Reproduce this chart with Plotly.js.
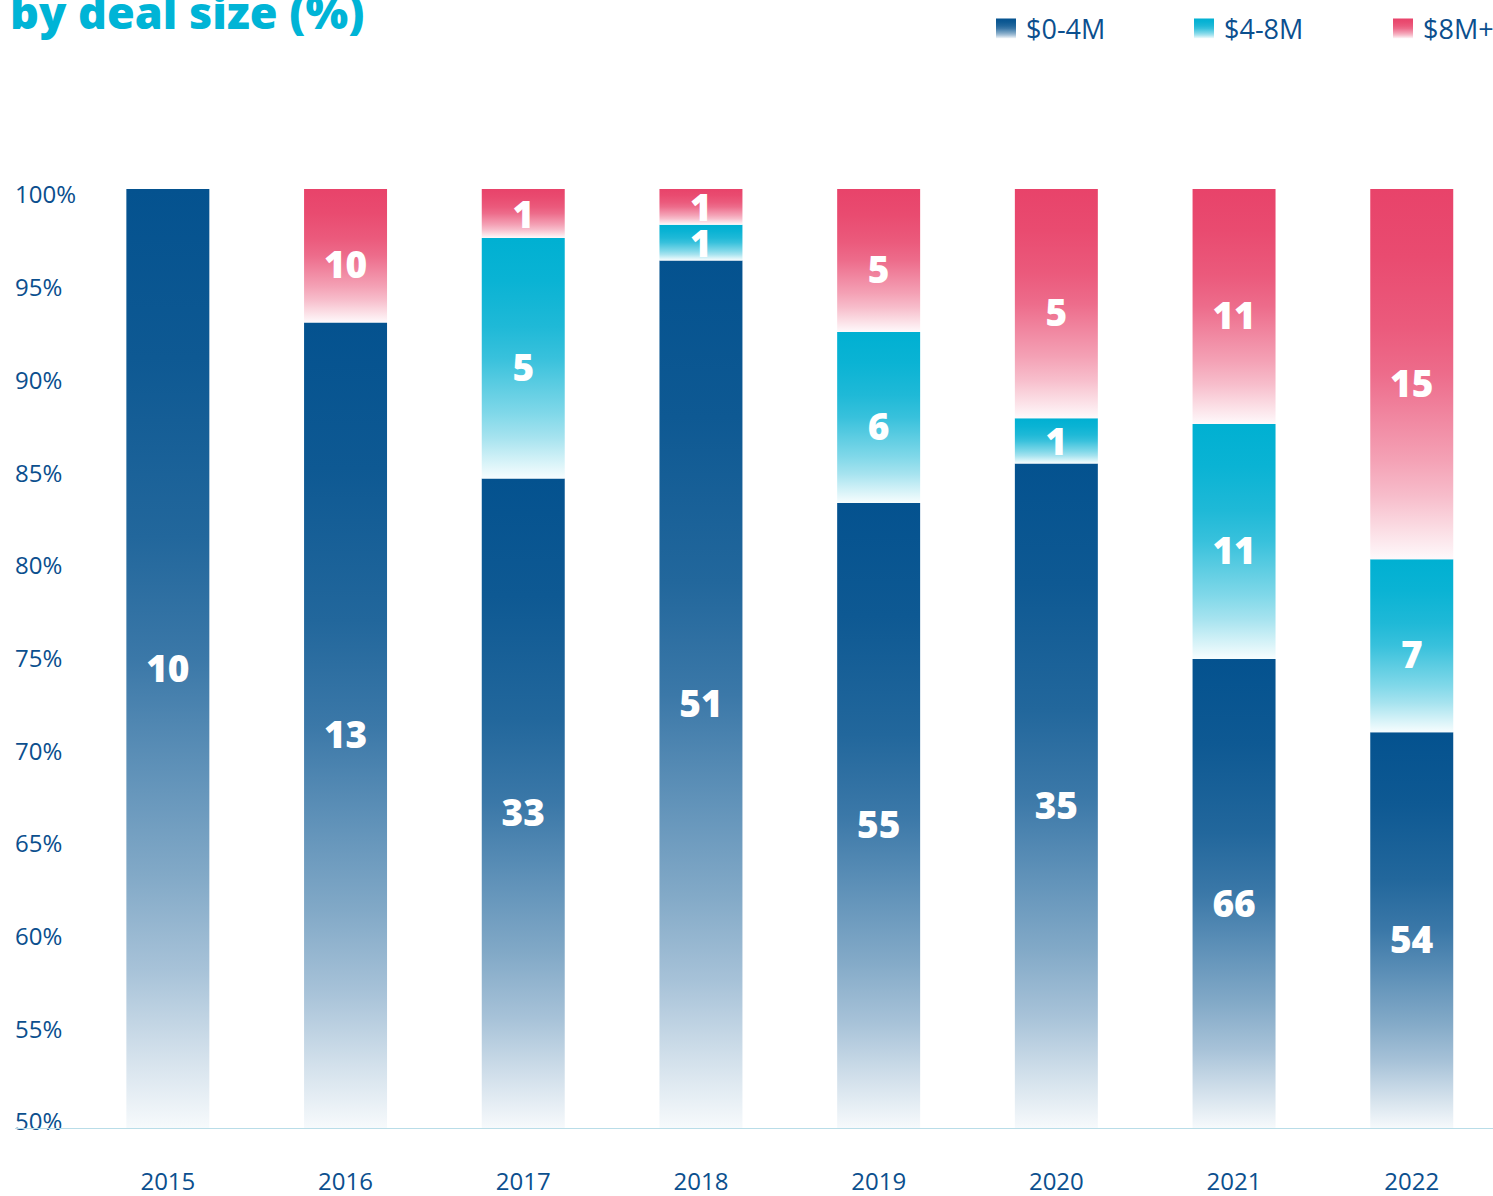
<!DOCTYPE html>
<html>
<head>
<meta charset="utf-8">
<script src="https://cdn.plot.ly/plotly-3.0.1.min.js"></script>
<style>
  html, body { margin: 0; padding: 0; background: #ffffff; }
  #chart { width: 1493px; height: 1196px; }
</style>
</head>
<body>
<div id="chart"></div>
<script>
// ---- data ----
const years = ['2015', '2016', '2017', '2018', '2019', '2020', '2021', '2022'];
const seriesNames = ['$0-4M', '$4-8M', '$8M+'];
// share of deals (%) per deal size
const pctSmall = [100, 92.9, 84.6, 96.2, 83.3, 85.4, 75.0, 71.1];
const pctMid   = [0, 0, 12.8, 1.9, 9.1, 2.4, 12.5, 9.2];
const pctLarge = [0, 7.1, 2.6, 1.9, 7.6, 12.2, 12.5, 19.7];
// labels printed on the segments (deal counts)
const countSmall = [10, 13, 33, 51, 55, 35, 66, 54];
const countMid   = [null, null, 5, 1, 6, 1, 11, 7];
const countLarge = [null, 10, 1, 1, 5, 5, 11, 15];
const yTicks = [50, 55, 60, 65, 70, 75, 80, 85, 90, 95, 100];
const yTickText = yTicks.map(v => v + '%');

// ---- style ----
const FONT = 'Open Sans, Liberation Sans, sans-serif';
const TXT = '#0b4f8e';
const colors = ['#04528f', '#00b0d2', '#e8436a'];
const yMin = yTicks[0], yMax = yTicks[yTicks.length - 1];

const lbl = arr => arr.map(v => v == null ? '' : String(v));
const baseMid = pctSmall.slice();
const baseLarge = pctSmall.map((v, i) => v + pctMid[i]);

function bar(name, y, base, text, color, legendId) {
  return {
    type: 'bar', name: name, x: years, y: y, base: base,
    legend: legendId,
    text: text, textposition: 'inside', insidetextanchor: 'middle',
    constraintext: 'none', textangle: 0,
    insidetextfont: { family: FONT, size: 37, color: '#ffffff', weight: 800 },
    marker: { color: color, line: { width: 0 } },
    hoverinfo: 'skip'
  };
}

const traces = [
  bar(seriesNames[0], pctSmall.map(v => v - yMin), yMin, lbl(countSmall), colors[0], 'legend'),
  bar(seriesNames[1], pctMid, baseMid, lbl(countMid), colors[1], 'legend2'),
  bar(seriesNames[2], pctLarge, baseLarge, lbl(countLarge), colors[2], 'legend3')
];

const L = 79, T = 189, B = 67, W = 1493, H = 1196;
const plotW = W - L;
const step = 177.7;

function legendAt(px) {
  return {
    orientation: 'h', x: px / W, xref: 'container', xanchor: 'left',
    y: 1 - 29 / H, yref: 'container', yanchor: 'middle',
    font: { family: FONT, size: 27, color: TXT },
    bgcolor: 'rgba(0,0,0,0)', borderwidth: 0
  };
}

const layout = {
  width: W, height: H,
  margin: { l: L, r: 0, t: T, b: B, pad: 0, autoexpand: false },
  paper_bgcolor: '#ffffff', plot_bgcolor: '#ffffff',
  barmode: 'overlay', bargap: 0.533,
  showlegend: true,
  title: {
    text: 'by deal size (%)',
    font: { family: FONT, size: 45, color: '#00b4d6', weight: 800 },
    x: 10 / W, xanchor: 'left', xref: 'container',
    y: 1 - 13 / H, yanchor: 'middle', yref: 'container'
  },
  legend: legendAt(986),
  legend2: legendAt(1184),
  legend3: legendAt(1383),
  xaxis: {
    type: 'category', range: [-0.5, -0.5 + plotW / step],
    showgrid: false, zeroline: false, showline: false,
    ticks: 'outside', ticklen: 0, ticklabelstandoff: 31,
    tickfont: { family: FONT, size: 24, color: TXT },
    fixedrange: true
  },
  yaxis: {
    range: [yMin, yMax], tickvals: yTicks, ticktext: yTickText,
    showgrid: false, zeroline: false, showline: false, ticks: '',
    tickfont: { family: FONT, size: 24, color: TXT },
    fixedrange: true
  },
  shapes: [{
    type: 'line', xref: 'paper', yref: 'y', layer: 'above',
    x0: (15 - L) / plotW, x1: 1, y0: yMin, y1: yMin,
    line: { color: '#b9dde8', width: 2 }
  }]
};

function hexToRgb(hex) {
  const n = parseInt(hex.slice(1), 16);
  return [(n >> 16) & 255, (n >> 8) & 255, n & 255];
}
function mixWhite(hex, t) {
  const m = c => Math.round(c + (255 - c) * t);
  const [r, g, b] = hexToRgb(hex);
  return 'rgb(' + m(r) + ',' + m(g) + ',' + m(b) + ')';
}
const rgbKeys = colors.map(c => hexToRgb(c).join(','));
const fadeStops = [[0, 0], [0.18, 0.04], [0.37, 0.12], [0.5, 0.22], [0.63, 0.38],
                   [0.73, 0.5], [0.83, 0.65], [0.92, 0.82], [1, 0.97]];

function colorIndex(p) {
  const f = (p.style.fill || p.getAttribute('fill') || '').replace(/\s/g, '');
  const m = f.match(/rgba?\((\d+),(\d+),(\d+)/);
  if (!m) return -1;
  return rgbKeys.indexOf(m[1] + ',' + m[2] + ',' + m[3]);
}

function decorate(gd) {
  const NS = 'http://www.w3.org/2000/svg';
  const svg = gd.querySelector('.main-svg');
  let defs = svg.querySelector('defs');
  if (!defs) { defs = document.createElementNS(NS, 'defs'); svg.insertBefore(defs, svg.firstChild); }
  colors.forEach((c, i) => {
    if (document.getElementById('fade' + i)) return;
    const g = document.createElementNS(NS, 'linearGradient');
    g.setAttribute('id', 'fade' + i);
    g.setAttribute('x1', '0'); g.setAttribute('y1', '0');
    g.setAttribute('x2', '0'); g.setAttribute('y2', '1');
    fadeStops.forEach(s => {
      const st = document.createElementNS(NS, 'stop');
      st.setAttribute('offset', s[0]);
      st.setAttribute('stop-color', mixWhite(c, s[1]));
      g.appendChild(st);
    });
    defs.appendChild(g);
  });
  gd.querySelectorAll('.barlayer .trace').forEach((tr, i) => {
    tr.querySelectorAll('.point').forEach(pt => {
      const p = pt.querySelector('path');
      if (!p) return;
      p.style.fill = 'url(#fade' + i + ')';
      const t = pt.querySelector('text');
      if (t && !t.dataset.shifted && p.getBBox().height > 80) {
        t.dataset.shifted = '1';
        t.setAttribute('transform', 'translate(0,8) ' + (t.getAttribute('transform') || ''));
      }
    });
  });
  // legend symbols (all legends): bigger squares with the same fade
  document.querySelectorAll('.legendpoints path').forEach(p => {
    const i = colorIndex(p);
    if (i < 0) return;
    p.setAttribute('d', 'M10,10H-10V-10H10Z');
    p.style.fill = 'url(#fade' + i + ')';
  });
  // y tick labels: left-aligned at x = 15, spaced like the reference
  gd.querySelectorAll('.yaxislayer-above .ytick text').forEach(t => {
    if (t.dataset.moved) return;
    t.dataset.moved = '1';
    const left = t.getBoundingClientRect().left - gd.getBoundingClientRect().left;
    t.setAttribute('x', parseFloat(t.getAttribute('x') || 0) + (15 - left));
    const v = parseFloat(t.textContent);
    const dy = -7 + (v - yMin) * 0.26;
    t.setAttribute('transform', 'translate(0,' + dy + ') ' + (t.getAttribute('transform') || ''));
  });
}

const gdEl = document.getElementById('chart');
Plotly.newPlot(gdEl, traces, layout, { displayModeBar: false, staticPlot: true })
  .then(gd => {
    decorate(gd);
    gd.on('plotly_afterplot', () => decorate(gd));
    [20, 100, 300, 800].forEach(ms => setTimeout(() => decorate(gd), ms));
  });
</script>
</body>
</html>
